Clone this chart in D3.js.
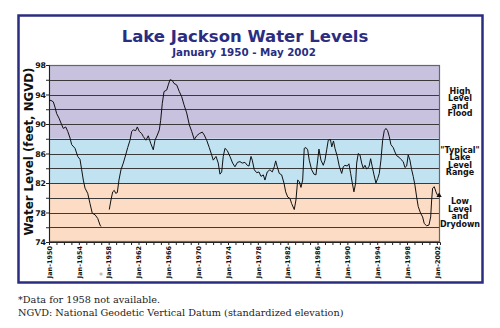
<!DOCTYPE html>
<html>
<head>
<meta charset="utf-8">
<script src="https://cdn.jsdelivr.net/npm/d3@7"></script>
<style>
  body { margin: 0; background: #fff; }
  svg { display: block; }
</style>
</head>
<body>
<div id="chart"></div>
<script>
// decimal year / lake level (ft NGVD); 1957-58 gap split into two runs
const yearsA = [1950.00, 1950.27, 1950.58, 1950.80, 1951.03, 1951.34, 1951.70, 1951.92, 1952.24, 1952.51,
  1952.82, 1953.04, 1953.49, 1953.85, 1954.16, 1954.38, 1954.60, 1954.83, 1955.19, 1955.50,
  1955.80, 1956.17, 1956.53, 1956.84, 1956.97];
const levelsA = [93.2, 93.2, 93.0, 92.3, 91.4, 90.8, 89.9, 89.4, 89.6, 89.0,
  88.1, 87.2, 86.7, 85.6, 85.2, 83.8, 82.4, 81.3, 80.6, 79.2,
  77.9, 77.7, 77.2, 76.3, 76.1];

const yearsB = [1958.08, 1958.31, 1958.54, 1958.75, 1958.94, 1959.16, 1959.38, 1959.65, 1959.96, 1960.28,
  1960.55, 1960.86, 1961.09, 1961.30, 1961.62, 1961.84, 1962.10, 1962.43, 1962.64, 1963.00,
  1963.31, 1963.63, 1963.98, 1964.21, 1964.52, 1964.79, 1964.97, 1965.19, 1965.42, 1965.78,
  1965.99, 1966.22, 1966.53, 1966.76, 1967.12, 1967.47, 1967.79, 1968.10, 1968.46, 1968.81,
  1969.13, 1969.48, 1969.80, 1970.15, 1970.55, 1970.82, 1971.14, 1971.49, 1971.81, 1972.02,
  1972.39, 1972.69, 1972.92, 1973.15, 1973.36, 1973.59, 1973.90, 1974.26, 1974.62, 1974.93,
  1975.27, 1975.60, 1975.91, 1976.27, 1976.58, 1976.81, 1977.08, 1977.25, 1977.52, 1977.84,
  1978.15, 1978.42, 1978.73, 1978.95, 1979.26, 1979.62, 1979.93, 1980.20, 1980.39, 1980.60,
  1980.87, 1981.19, 1981.50, 1981.73, 1982.00, 1982.31, 1982.53, 1982.88, 1983.11, 1983.34,
  1983.55, 1983.78, 1984.01, 1984.22, 1984.45, 1984.68, 1984.89, 1985.21, 1985.52, 1985.79,
  1986.02, 1986.19, 1986.46, 1986.77, 1987.00, 1987.23, 1987.44, 1987.73, 1987.91, 1988.14,
  1988.34, 1988.65, 1988.91, 1989.24, 1989.45, 1989.68, 1989.99, 1990.21, 1990.44, 1990.66,
  1990.88, 1991.11, 1991.25, 1991.46, 1991.69, 1991.92, 1992.13, 1992.36, 1992.59, 1992.90,
  1993.12, 1993.34, 1993.57, 1993.83, 1994.06, 1994.28, 1994.50, 1994.73, 1994.95, 1995.17,
  1995.40, 1995.62, 1995.84, 1996.15, 1996.38, 1996.61, 1996.92, 1997.18, 1997.49, 1997.72,
  1997.95, 1998.16, 1998.39, 1998.62, 1998.83, 1999.06, 1999.29, 1999.50, 1999.82, 2000.09,
  2000.31, 2000.63, 2000.94, 2001.17, 2001.30, 2001.43, 2001.65, 2001.88, 2002.05, 2002.30];
const levelsB = [78.4, 79.7, 80.8, 81.0, 80.6, 80.7, 82.4, 83.8, 84.7, 85.8,
  86.8, 87.8, 89.0, 89.2, 89.1, 89.6, 89.0, 88.7, 88.3, 87.8,
  88.4, 87.4, 86.5, 87.8, 88.5, 89.2, 90.5, 92.8, 94.4, 94.6,
  95.3, 96.0, 95.9, 95.5, 95.3, 94.4, 93.7, 92.6, 91.5, 89.9,
  89.0, 87.9, 88.4, 88.7, 88.9, 88.5, 87.8, 86.8, 85.8, 85.1,
  85.6, 84.7, 83.2, 83.5, 85.6, 86.7, 86.4, 85.6, 84.7, 84.2,
  84.8, 84.9, 84.7, 84.8, 84.4, 84.3, 85.6, 85.1, 83.8, 83.4,
  83.5, 82.9, 83.1, 82.4, 83.5, 83.8, 83.5, 84.2, 85.0, 84.2,
  83.3, 83.1, 82.0, 80.8, 80.1, 79.9, 79.2, 78.4, 79.7, 82.4,
  82.2, 81.4, 82.4, 86.7, 86.8, 86.5, 85.1, 83.8, 83.2, 83.1,
  85.1, 86.6, 85.1, 84.4, 85.1, 86.5, 87.8, 87.9, 86.9, 87.7,
  86.7, 85.6, 84.3, 83.3, 84.2, 84.4, 84.3, 84.6, 83.3, 82.0,
  80.8, 82.0, 84.7, 86.0, 85.8, 84.7, 84.0, 84.4, 83.9, 84.2,
  85.3, 84.2, 83.1, 82.0, 82.6, 83.3, 85.1, 87.8, 89.1, 89.4,
  89.1, 88.3, 87.2, 86.8, 86.2, 85.7, 85.5, 85.2, 84.9, 84.1,
  84.3, 85.8, 85.1, 83.8, 82.9, 81.7, 80.1, 78.8, 77.9, 77.4,
  76.5, 76.2, 76.3, 77.4, 79.7, 81.3, 81.5, 80.8, 80.4, 80.3];

const bandNames = ['high', 'typical', 'low'];
const bandRanges = [[88, 98], [82, 88], [74, 82]];
const bandColors = ['#c8c2df', '#c0e2f1', '#fcdcc4'];
const bandLabels = [['High', 'Level', 'and', 'Flood'], ['"Typical"', 'Lake', 'Level', 'Range'], ['Low', 'Level', 'and', 'Drydown']];

const yTickLabels = [74, 78, 82, 86, 90, 94, 98];
const xLabelYears = [1950, 1954, 1958, 1962, 1966, 1970, 1974, 1978, 1982, 1986, 1990, 1994, 1998, 2002];

const width = 500, height = 328;
const navy = '#2a2d80';
const plot = { left: 49, top: 65, right: 440, bottom: 242 };

const svg = d3.select('#chart').append('svg')
    .attr('width', width)
    .attr('height', height);

// outer frame
svg.append('rect')
    .attr('x', 18.5).attr('y', 15.5)
    .attr('width', 464).attr('height', 267)
    .attr('fill', '#fff')
    .attr('stroke', navy)
    .attr('stroke-width', 2.5);

svg.append('text')
    .attr('x', 245).attr('y', 42)
    .attr('text-anchor', 'middle')
    .attr('font-family', 'DejaVu Sans')
    .attr('font-weight', 'bold')
    .attr('font-size', '16.5px')
    .attr('fill', navy)
    .text('Lake Jackson Water Levels');

svg.append('text')
    .attr('x', 244).attr('y', 56)
    .attr('text-anchor', 'middle')
    .attr('font-family', 'DejaVu Sans')
    .attr('font-weight', 'bold')
    .attr('font-size', '10.3px')
    .attr('fill', navy)
    .text('January 1950 - May 2002');

const x = d3.scaleLinear().domain([1950, 2002.42]).range([plot.left, plot.right]);
const y = d3.scaleLinear().domain([74, 98]).range([plot.bottom, plot.top]);

// bands
svg.append('g').selectAll('rect')
    .data(bandNames)
  .enter().append('rect')
    .attr('x', plot.left)
    .attr('y', (d, i) => y(bandRanges[i][1]))
    .attr('width', plot.right - plot.left)
    .attr('height', (d, i) => y(bandRanges[i][0]) - y(bandRanges[i][1]))
    .attr('fill', (d, i) => bandColors[i]);

// gridlines every 2 ft
svg.append('g').selectAll('line')
    .data(d3.range(76, 98, 2))
  .enter().append('line')
    .attr('x1', plot.left).attr('x2', plot.right)
    .attr('y1', d => Math.round(y(d)) + 0.5)
    .attr('y2', d => Math.round(y(d)) + 0.5)
    .attr('stroke', '#3a3a3a')
    .attr('stroke-width', 1);

svg.append('rect')
    .attr('x', plot.left + 0.5).attr('y', plot.top + 0.5)
    .attr('width', plot.right - plot.left - 1)
    .attr('height', plot.bottom - plot.top - 1)
    .attr('fill', 'none')
    .attr('stroke', '#666')
    .attr('stroke-width', 1.2);

// y axis
const yAxis = svg.append('g')
    .attr('transform', 'translate(' + plot.left + ',0)')
    .call(d3.axisLeft(y).tickValues(d3.range(74, 99, 2)).tickSize(3).tickPadding(0)
        .tickFormat(d => yTickLabels.includes(d) ? d : ''));
yAxis.select('.domain').attr('stroke', '#222');
yAxis.selectAll('.tick line').attr('stroke', '#222');
yAxis.selectAll('text')
    .attr('font-family', 'DejaVu Sans')
    .attr('font-weight', 'bold')
    .attr('font-size', '7.8px')
    .attr('fill', '#111');

// x axis
const xAxis = svg.append('g')
    .attr('transform', 'translate(0,' + plot.bottom + ')')
    .call(d3.axisBottom(x).tickValues(d3.range(1950, 2003, 1)).tickSize(3)
        .tickFormat(d => xLabelYears.includes(d) ? 'Jan-' + d : ''));
xAxis.select('.domain').attr('stroke', '#222');
xAxis.selectAll('.tick line').attr('stroke', '#222');
xAxis.selectAll('text')
    .attr('font-family', 'DejaVu Sans')
    .attr('font-weight', 'bold')
    .attr('font-size', '6.5px')
    .attr('fill', '#111')
    .attr('transform', 'rotate(-90)')
    .attr('text-anchor', 'end')
    .attr('x', -4)
    .attr('y', 0)
    .attr('dy', '0.35em');

svg.append('text')
    .attr('x', 101).attr('y', 279)
    .attr('text-anchor', 'middle')
    .attr('font-family', 'DejaVu Sans')
    .attr('font-size', '8px')
    .attr('fill', '#999')
    .text('*');

svg.append('text')
    .attr('transform', 'translate(33,' + ((plot.top + plot.bottom) / 2 - 2) + ') rotate(-90)')
    .attr('text-anchor', 'middle')
    .attr('font-family', 'DejaVu Sans')
    .attr('font-weight', 'bold')
    .attr('font-size', '11.5px')
    .attr('textLength', 168)
    .attr('lengthAdjust', 'spacingAndGlyphs')
    .attr('fill', '#111')
    .text('Water Level (feet, NGVD)');

// water level line
const line = d3.line()
    .x(d => x(d[0]))
    .y(d => y(d[1]));
const runs = [d3.zip(yearsA, levelsA), d3.zip(yearsB, levelsB)];
svg.append('g').selectAll('path')
    .data(runs)
  .enter().append('path')
    .attr('d', line)
    .attr('fill', 'none')
    .attr('stroke', '#111')
    .attr('stroke-width', 1)
    .attr('stroke-linejoin', 'round');

const last = runs[1][runs[1].length - 1];
svg.append('path')
    .attr('d', d3.symbol().type(d3.symbolTriangle).size(12)())
    .attr('transform', 'translate(' + x(last[0]) + ',' + y(last[1]) + ')')
    .attr('fill', '#111');

// band labels on the right
bandLabels.forEach((lines, i) => {
    const mid = y((bandRanges[i][0] + bandRanges[i][1]) / 2);
    const t = svg.append('text')
        .attr('text-anchor', 'middle')
        .attr('font-family', 'DejaVu Sans')
        .attr('font-weight', 'bold')
        .attr('font-size', '8px')
        .attr('fill', '#111');
    lines.forEach((s, j) => {
        t.append('tspan')
            .attr('x', 460)
            .attr('y', mid + (j - 1.5) * 7.5 + 3)
            .text(s);
    });
});

// footnotes
svg.append('text')
    .attr('x', 18).attr('y', 303)
    .attr('font-family', 'DejaVu Serif')
    .attr('font-size', '9.7px')
    .attr('fill', '#222')
    .text('*Data for 1958 not available.');
svg.append('text')
    .attr('x', 18).attr('y', 316)
    .attr('font-family', 'DejaVu Serif')
    .attr('font-size', '9.7px')
    .attr('fill', '#222')
    .text('NGVD: National Geodetic Vertical Datum (standardized elevation)');
</script>
</body>
</html>
